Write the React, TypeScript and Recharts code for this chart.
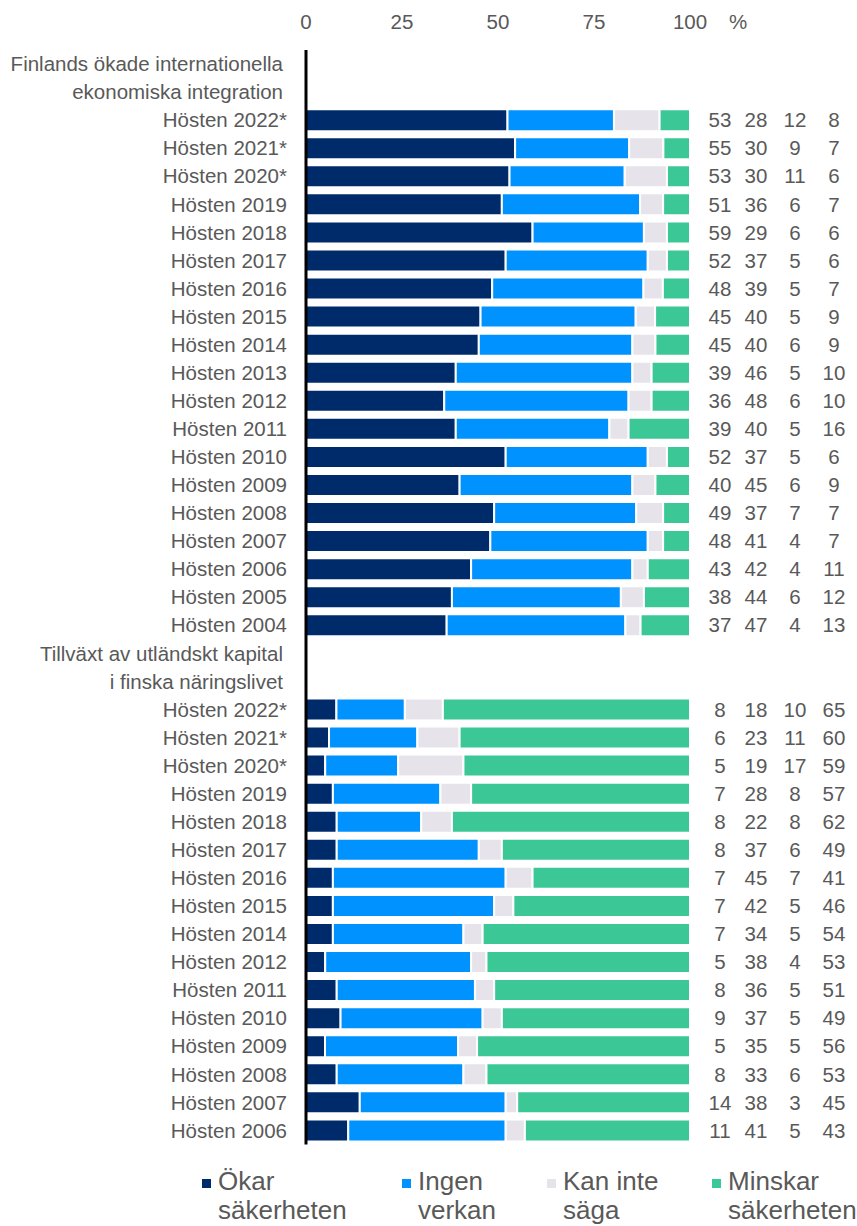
import React from "react";
import { BarChart, Bar, XAxis, YAxis, Legend } from "recharts";

const rowLabels: string[] = [
  "Finlands ökade internationella",
  "ekonomiska integration",
  "Hösten 2022*", "Hösten 2021*", "Hösten 2020*", "Hösten 2019", "Hösten 2018",
  "Hösten 2017", "Hösten 2016", "Hösten 2015", "Hösten 2014", "Hösten 2013",
  "Hösten 2012", "Hösten 2011", "Hösten 2010", "Hösten 2009", "Hösten 2008",
  "Hösten 2007", "Hösten 2006", "Hösten 2005", "Hösten 2004",
  "Tillväxt av utländskt kapital",
  "i finska näringslivet",
  "Hösten 2022*", "Hösten 2021*", "Hösten 2020*", "Hösten 2019", "Hösten 2018",
  "Hösten 2017", "Hösten 2016", "Hösten 2015", "Hösten 2014", "Hösten 2012",
  "Hösten 2011", "Hösten 2010", "Hösten 2009", "Hösten 2008", "Hösten 2007",
  "Hösten 2006",
];

const okar: (number | null)[] = [
  null, null,
  53, 55, 53, 51, 59, 52, 48, 45, 45, 39, 36, 39, 52, 40, 49, 48, 43, 38, 37,
  null, null,
  8, 6, 5, 7, 8, 8, 7, 7, 7, 5, 8, 9, 5, 8, 14, 11,
];
const ingenVerkan: (number | null)[] = [
  null, null,
  28, 30, 30, 36, 29, 37, 39, 40, 40, 46, 48, 40, 37, 45, 37, 41, 42, 44, 47,
  null, null,
  18, 23, 19, 28, 22, 37, 45, 42, 34, 38, 36, 37, 35, 33, 38, 41,
];
const kanInteSaga: (number | null)[] = [
  null, null,
  12, 9, 11, 6, 6, 5, 5, 5, 6, 5, 6, 5, 5, 6, 7, 4, 4, 6, 4,
  null, null,
  10, 11, 17, 8, 8, 6, 7, 5, 5, 4, 5, 5, 5, 6, 3, 5,
];
const minskar: (number | null)[] = [
  null, null,
  8, 7, 6, 7, 6, 6, 7, 9, 9, 10, 10, 16, 6, 9, 7, 7, 11, 12, 13,
  null, null,
  65, 60, 59, 57, 62, 49, 41, 46, 54, 53, 51, 49, 56, 53, 45, 43,
];

const xTicks = [0, 0.25, 0.5, 0.75, 1];
const seriesNames = ["Ökar|säkerheten", "Ingen|verkan", "Kan inte|säga", "Minskar|säkerheten"];
const seriesColors = ["#002B6B", "#0093FF", "#E6E4EA", "#3CC796"];

const rows = rowLabels.map((label, i) => ({
  id: "r" + i,
  label,
  okar: okar[i],
  ingen: ingenVerkan[i],
  kan: kanInteSaga[i],
  minskar: minskar[i],
}));

const FONT = "'Liberation Sans', Arial, sans-serif";
const TEXT = "#595959";
const FS = 20.5;

const TopTick = (props: any) => {
  const { x, y, payload } = props;
  const v = Math.round(payload.value * 100);
  return (
    <g>
      <text x={x} y={y - 21} textAnchor="middle" fontSize={FS} fill={TEXT} fontFamily={FONT}>
        {v}
      </text>
      {v === 100 && (
        <text x={x + 48} y={y - 21} textAnchor="middle" fontSize={FS} fill={TEXT} fontFamily={FONT}>
          %
        </text>
      )}
    </g>
  );
};

const LeftTick = (props: any) => {
  const { x, y, index } = props;
  const isHeader = okar[index] == null;
  return (
    <text x={x - (isHeader ? 23 : 19)} y={y} dy="0.35em" textAnchor="end" fontSize={FS} fill={TEXT} fontFamily={FONT}>
      {rowLabels[index]}
    </text>
  );
};

const colOffsets = [30, 66, 105, 144];
const RightTick = (props: any) => {
  const { x, y, index } = props;
  const vals = [okar[index], ingenVerkan[index], kanInteSaga[index], minskar[index]];
  if (vals[0] == null) return <g />;
  return (
    <g>
      {vals.map((v, k) => (
        <text key={k} x={x + colOffsets[k]} y={y} dy="0.35em" textAnchor="middle" fontSize={FS} fill={TEXT} fontFamily={FONT}>
          {v}
        </text>
      ))}
    </g>
  );
};

const textLefts = [218, 418, 563, 728];
const renderLegend = () => (
  <div style={{ position: "relative", height: 80, width: 857, fontFamily: FONT }}>
    {seriesNames.map((n, i) => {
      const [a, b] = n.split("|");
      return (
        <React.Fragment key={i}>
          <div
            style={{
              position: "absolute",
              left: textLefts[i] - 16,
              top: 34,
              width: 9,
              height: 9,
              background: seriesColors[i],
            }}
          />
          <div
            style={{
              position: "absolute",
              left: textLefts[i],
              top: 22,
              fontSize: 26,
              lineHeight: "29px",
              color: TEXT,
              whiteSpace: "nowrap",
            }}
          >
            {a}
            <br />
            {b}
          </div>
        </React.Fragment>
      );
    })}
  </div>
);

export default function App() {
  return (
    <div style={{ position: "absolute", left: 0, top: 0, width: 857, height: 1226, background: "#fff" }}>
      <BarChart
        width={857}
        height={1226}
        data={rows}
        layout="vertical"
        stackOffset="expand"
        barSize={22}
        margin={{ top: 0, right: 0, bottom: 1.5, left: 0 }}
      >
        <XAxis
          type="number"
          orientation="top"
          domain={[0, 1]}
          ticks={xTicks}
          axisLine={false}
          tickLine={false}
          tickSize={0}
          tickMargin={0}
          height={50}
          tick={<TopTick />}
          interval={0}
        />
        <YAxis
          yAxisId="left"
          type="category"
          dataKey="id"
          width={306}
          axisLine={{ stroke: "#000", strokeWidth: 3 }}
          tickLine={false}
          tickSize={0}
          tickMargin={0}
          tick={<LeftTick />}
          interval={0}
        />
        <YAxis
          yAxisId="right"
          orientation="right"
          type="category"
          dataKey="id"
          width={167}
          axisLine={false}
          tickLine={false}
          tickSize={0}
          tickMargin={0}
          tick={<RightTick />}
          interval={0}
        />
        <Legend verticalAlign="bottom" content={renderLegend} />
        <Bar yAxisId="left" dataKey="okar" stackId="s" fill={seriesColors[0]} stroke="#fff" strokeWidth={2} isAnimationActive={false} />
        <Bar yAxisId="left" dataKey="ingen" stackId="s" fill={seriesColors[1]} stroke="#fff" strokeWidth={2} isAnimationActive={false} />
        <Bar yAxisId="left" dataKey="kan" stackId="s" fill={seriesColors[2]} stroke="#fff" strokeWidth={2} isAnimationActive={false} />
        <Bar yAxisId="left" dataKey="minskar" stackId="s" fill={seriesColors[3]} stroke="#fff" strokeWidth={2} isAnimationActive={false} />
      </BarChart>
    </div>
  );
}
